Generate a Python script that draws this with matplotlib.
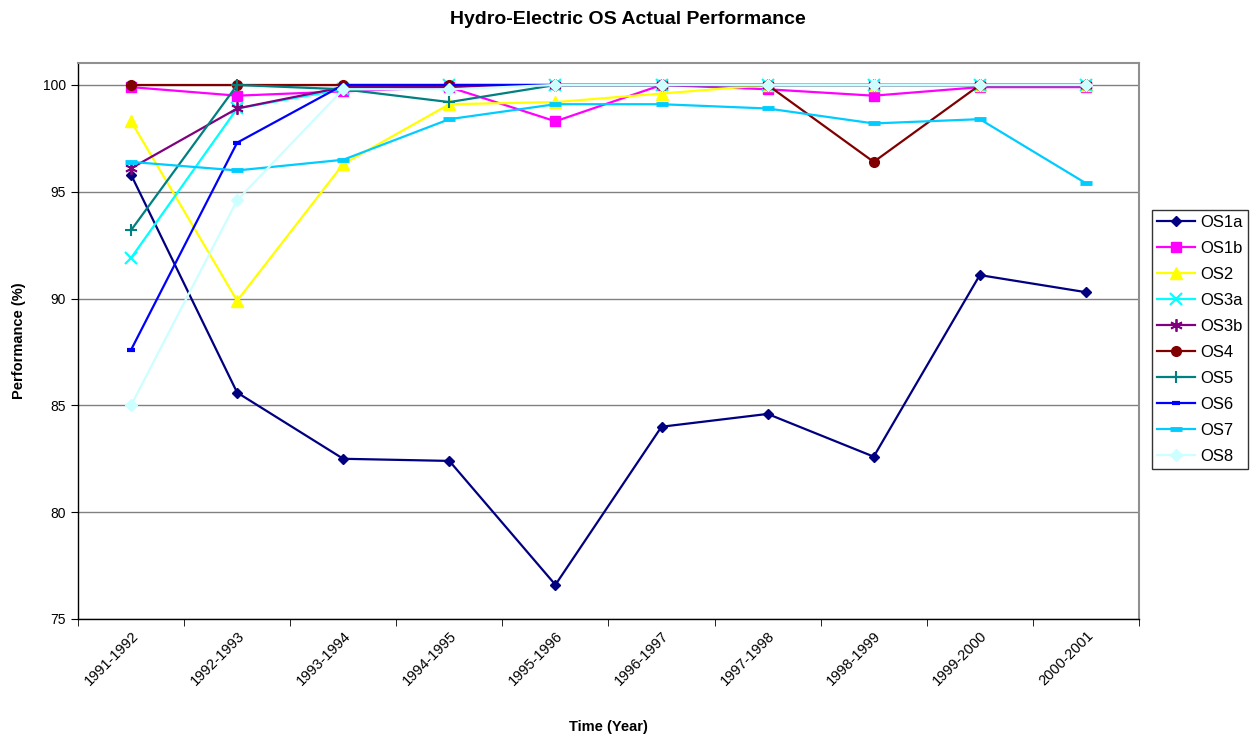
import numpy as np
import matplotlib.pyplot as plt

plt.rcParams['font.family'] = ['Liberation Sans', 'DejaVu Sans']

years = ["1991-1992", "1992-1993", "1993-1994", "1994-1995", "1995-1996",
         "1996-1997", "1997-1998", "1998-1999", "1999-2000", "2000-2001"]

os1a = [95.8, 85.6, 82.5, 82.4, 76.6, 84.0, 84.6, 82.6, 91.1, 90.3]
os1b = [99.9, 99.5, 99.7, 99.9, 98.3, 100.0, 99.8, 99.5, 99.9, 99.9]
os2 = [98.3, 89.9, 96.3, 99.1, 99.2, 99.6, 100.0, 100.0, 100.0, 100.0]
os3a = [91.9, 98.9, 99.8, 100.0, 100.0, 100.0, 100.0, 100.0, 100.0, 100.0]
os3b = [96.1, 98.9, 99.9, 99.9, 100.0, 100.0, 100.0, 100.0, 100.0, 100.0]
os4 = [100.0, 100.0, 100.0, 100.0, 100.0, 100.0, 100.0, 96.4, 100.0, 100.0]
os5 = [93.2, 100.0, 99.8, 99.2, 100.0, 100.0, 100.0, 100.0, 100.0, 100.0]
os6 = [87.6, 97.3, 100.0, 100.0, 100.0, 100.0, 100.0, 100.0, 100.0, 100.0]
os7 = [96.4, 96.0, 96.5, 98.4, 99.1, 99.1, 98.9, 98.2, 98.4, 95.4]
os8 = [85.0, 94.6, 99.8, 99.8, 100.0, 100.0, 100.0, 100.0, 100.0, 100.0]

x = np.arange(len(years))

# label, values, colour, marker, marker size, marker edge width
series = [
    ("OS1a", os1a, "#000080", "D", 5, 1.0),
    ("OS1b", os1b, "#FF00FF", "s", 7, 1.0),
    ("OS2", os2, "#FFFF00", "^", 8, 1.0),
    ("OS3a", os3a, "#00FFFF", "x", 8, 1.5),
    ("OS3b", os3b, "#800080", (6, 2, 0), 9, 1.3),
    ("OS4", os4, "#800000", "o", 7, 1.0),
    ("OS5", os5, "#008080", "+", 9, 1.5),
    ("OS6", os6, "#0000FF", "_", 6, 3.0),
    ("OS7", os7, "#00CCFF", "_", 8, 3.5),
    ("OS8", os8, "#CCFFFF", "D", 6, 1.0),
]

fig = plt.figure(figsize=(12.56, 7.42), dpi=100)
ax = fig.add_axes([0.0621, 0.1658, 0.8447, 0.7493])

for name, vals, col, mk, ms, mew in series:
    ax.plot(x, vals, color=col, lw=1.6, marker=mk, markersize=ms,
            markeredgewidth=mew, markeredgecolor=col, markerfacecolor=col,
            label=name)

ax.set_xlim(-0.5, len(years) - 0.5)
ax.set_ylim(75, 101.03)
ax.set_yticks([75, 80, 85, 90, 95, 100])
ax.set_yticklabels(["75", "80", "85", "90", "95", "100"], fontsize=10)
ax.grid(axis='y', color='#808080', lw=1.0)
ax.set_axisbelow(True)

# category labels at the centres, tick marks between categories
ax.set_xticks(x)
ax.set_xticklabels(years, rotation=45, ha='right', rotation_mode='anchor',
                   fontsize=10.5)
ax.tick_params(axis='x', length=0, pad=7)
ax.set_xticks(np.arange(-0.5, len(years), 1.0), minor=True)
ax.tick_params(axis='x', which='minor', length=5, direction='out')
ax.tick_params(axis='y', length=5, direction='out')

for side in ('top', 'right'):
    ax.spines[side].set_color('#909090')
    ax.spines[side].set_linewidth(1.5)
for side in ('left', 'bottom'):
    ax.spines[side].set_color('black')
    ax.spines[side].set_linewidth(1.0)

ax.set_xlabel("Time (Year)", fontsize=10.5, fontweight='bold', labelpad=23)
ax.set_ylabel("Performance (%)", fontsize=10.5, fontweight='bold', labelpad=12)
fig.suptitle("Hydro-Electric OS Actual Performance", fontsize=14,
             fontweight='bold', y=0.985)

leg = fig.legend(loc='upper left', bbox_to_anchor=(0.917, 0.717),
                 fontsize=12, frameon=True, fancybox=False, borderpad=0.3,
                 labelspacing=0.66, handlelength=2.3, handletextpad=0.3,
                 borderaxespad=0)
leg.get_frame().set_edgecolor('black')
leg.get_frame().set_linewidth(1.0)

plt.savefig("out.png", dpi=100)
